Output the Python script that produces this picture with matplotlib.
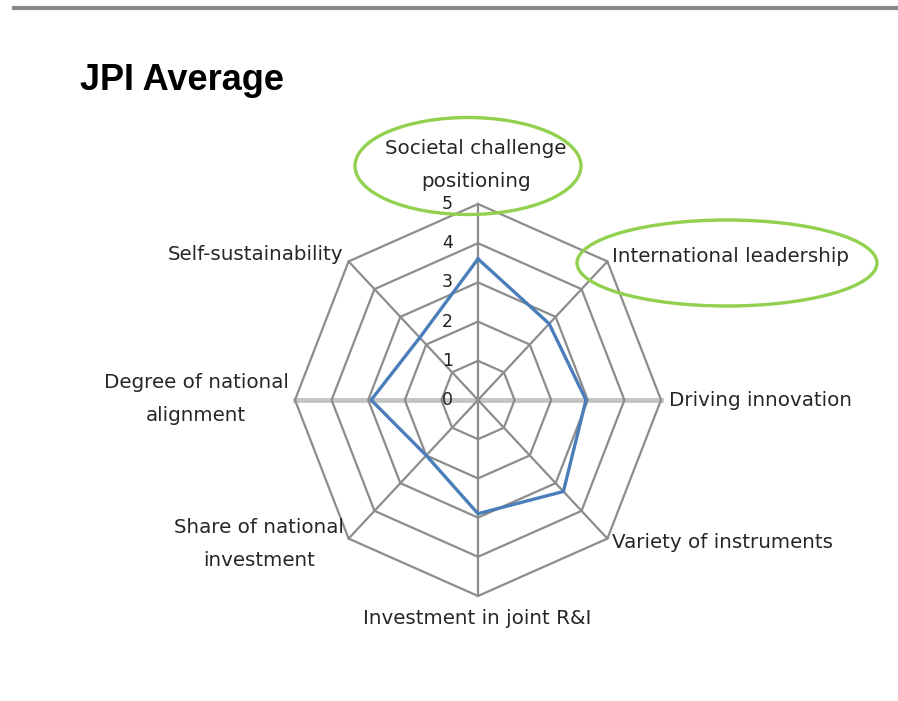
import numpy as np
import matplotlib.pyplot as plt
from matplotlib.patches import Ellipse
from matplotlib.lines import Line2D
from matplotlib.transforms import offset_copy

# data
categories = ["Societal challenge\npositioning", "International leadership",
              "Driving innovation", "Variety of instruments",
              "Investment in joint R&I", "Share of national\ninvestment",
              "Degree of national\nalignment", "Self-sustainability"]
scores = [3.6, 2.75, 2.95, 3.3, 2.9, 2.0, 2.92, 2.25]
levels = [0, 1, 2, 3, 4, 5]

plt.rcParams['font.family'] = ['DejaVu Sans']

W, H = 898, 701
fig = plt.figure(figsize=(W / 100, H / 100), dpi=100)

def fx(x):
    return x / W

def fy(y):
    return 1 - y / H

# polar axes, slightly squashed horizontally like the source
cx, cy, rx, ry = 478, 400, 183, 196
ax = fig.add_axes([(cx - rx) / W, (H - cy - ry) / H, 2 * rx / W, 2 * ry / H],
                  projection='polar')
ax.set_aspect('auto')
ax.set_theta_offset(np.pi / 2)
ax.set_theta_direction(-1)
ax.set_ylim(0, 5)
ax.grid(False)
ax.spines['polar'].set_visible(False)
ax.set_xticks([])
ax.set_yticks([])
ax.patch.set_alpha(0)

theta = np.arange(len(categories)) * 2 * np.pi / len(categories)
closed_t = np.append(theta, theta[0])

# octagon rings
for lv in levels[1:]:
    ax.plot(closed_t, [lv] * len(closed_t), color='#8c8c8c', lw=1.6, clip_on=False)

# spokes
for i, t in enumerate(theta):
    if i in (2, 6):
        ax.plot([t, t], [0, 5], color='#c4c4c4', lw=3.5, clip_on=False, zorder=1)
    else:
        ax.plot([t, t], [0, 5], color='#8c8c8c', lw=1.6, clip_on=False)

# data line
ax.plot(closed_t, scores + [scores[0]], color='#4a7ebb', lw=2.4, clip_on=False, zorder=5)

# value labels left of the vertical axis
off = offset_copy(ax.transData, fig=fig, x=-25, y=0, units='dots')
for lv in levels:
    ax.text(0, lv, str(lv), transform=off, ha='right', va='center',
            fontsize=12.5, color='#222222')

# category labels
lab_kw = dict(fontsize=14.3, color='#262626', linespacing=1.9)
fig.text(fx(476), fy(165), categories[0], ha='center', va='center', **lab_kw)
fig.text(fx(612), fy(256), categories[1], ha='left', va='center', **lab_kw)
fig.text(fx(669), fy(400), categories[2], ha='left', va='center', **lab_kw)
fig.text(fx(612), fy(543), categories[3], ha='left', va='center', **lab_kw)
fig.text(fx(477), fy(619), categories[4], ha='center', va='center', **lab_kw)
fig.text(fx(259), fy(544), categories[5], ha='center', va='center', **lab_kw)
fig.text(fx(196), fy(399), categories[6], ha='center', va='center', **lab_kw)
fig.text(fx(343), fy(255), categories[7], ha='right', va='center', **lab_kw)

# title
fig.text(fx(80), fy(80), "JPI Average", ha='left', va='center',
         fontsize=26, fontweight='bold', color='black', family='Liberation Sans')

# top rule
fig.add_artist(Line2D([fx(14), 1.0], [fy(8), fy(8)], color='#888888', lw=3))

# green highlight ellipses
fig.add_artist(Ellipse((fx(468), fy(166)), 226 / W, 97 / H, transform=fig.transFigure,
                       fill=False, edgecolor='#92d050', lw=2.4))
fig.add_artist(Ellipse((fx(727), fy(263)), 300 / W, 86 / H, transform=fig.transFigure,
                       fill=False, edgecolor='#92d050', lw=2.4))

fig.savefig('out.png', dpi=100)
